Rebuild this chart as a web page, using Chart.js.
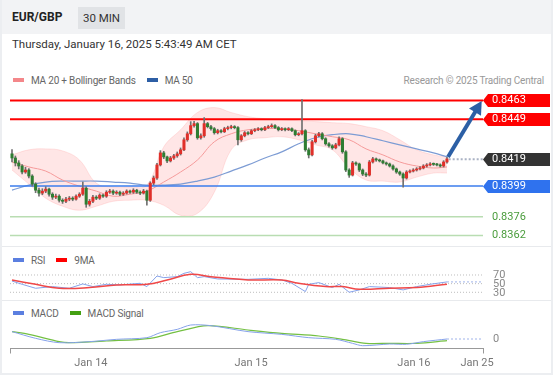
<!DOCTYPE html>
<html>
<head>
<meta charset="utf-8">
<script src="https://cdn.jsdelivr.net/npm/chart.js@4.4.1/dist/chart.umd.min.js"></script>
<style>
  html, body { margin: 0; padding: 0; background: #fff; }
  body { width: 553px; height: 375px; position: relative; overflow: hidden; font-family: Roboto, "Liberation Sans", sans-serif; color: #333; }
  .abs { position: absolute; }
  #head { left: 0; top: 0; width: 553px; height: 34px; background: #f2f3f5; }
  #pair { left: 12px; top: 10px; font-size: 12px; font-weight: bold; color: #222; }
  #tf { left: 78px; top: 7px; width: 47px; height: 22px; line-height: 22px; text-align: center; background: #e1e3e6; font-size: 11.5px; color: #333; }
  #date { left: 12px; top: 37px; font-size: 11.5px; color: #333; }
  .leg { font-size: 10px; letter-spacing: -0.2px; color: #666; white-space: nowrap; }
  .box { display: inline-block; width: 11px; height: 4px; vertical-align: middle; margin-right: 7px; position: relative; top: -1px; }
  .sep { left: 0; width: 553px; height: 1px; background: #e8eaed; }
  #frameL { left: 0; top: 0; width: 2px; height: 375px; background: #eceef1; }
  #frameR { right: 0; top: 0; width: 2px; height: 375px; background: #eceef1; }
  #frameB { left: 0; bottom: 0; width: 553px; height: 2px; background: #eceef1; }
  canvas { position: absolute; left: 0; }
</style>
</head>
<body>
<div id="head" class="abs"></div>
<div id="pair" class="abs">EUR/GBP</div>
<div id="tf" class="abs">30 MIN</div>
<div id="date" class="abs">Thursday, January 16, 2025 5:43:49 AM CET</div>

<div class="abs leg" style="left:13px; top:75px;"><span class="box" style="background:#f4878a"></span>MA 20 + Bollinger Bands<span class="box" style="background:#2d5ea5; margin-left:11px"></span>MA 50</div>
<div class="abs leg" style="right:9px; top:75px; color:#999;">Research © 2025 Trading Central</div>

<div class="abs sep" style="top:246px"></div>
<div class="abs leg" style="left:13px; top:255px;"><span class="box" style="background:#5b7fe0"></span>RSI<span class="box" style="background:#ff0000; margin-left:11px"></span>9MA</div>
<div class="abs sep" style="top:300px"></div>
<div class="abs leg" style="left:13px; top:308px;"><span class="box" style="background:#5b7fe0"></span>MACD<span class="box" style="background:#44a012; margin-left:11px"></span>MACD Signal</div>

<canvas id="main" width="553" height="157" style="top:88px"></canvas>
<canvas id="rsi" width="553" height="38" style="top:262px"></canvas>
<canvas id="macd" width="553" height="57" style="top:318px"></canvas>

<div id="frameL" class="abs"></div>
<div id="frameR" class="abs"></div>
<div id="frameB" class="abs"></div>

<script>
// 30 min candles, index 0 = first candle on the left
const firstOpen = 0.84231;
const closes = [
  0.84200,0.84163,0.84140,0.84095,0.84110,0.84065,0.84005,0.83959,0.83937,0.83952,
  0.83967,0.83929,0.83907,0.83914,0.83884,0.83876,0.83892,0.83899,0.83892,0.83914,
  0.83929,0.83974,0.83854,0.83876,0.83907,0.83899,0.83922,0.83914,0.83944,0.83952,
  0.83937,0.83944,0.83929,0.83937,0.83952,0.83944,0.83959,0.83944,0.83937,0.83952,
  0.83884,0.84012,0.84050,0.84148,0.84238,0.84208,0.84178,0.84200,0.84216,0.84231,
  0.84261,0.84336,0.84381,0.84442,0.84457,0.84351,0.84366,0.84457,0.84434,0.84419,
  0.84389,0.84404,0.84396,0.84419,0.84427,0.84434,0.84427,0.84336,0.84366,0.84389,
  0.84381,0.84404,0.84411,0.84419,0.84411,0.84427,0.84434,0.84442,0.84427,0.84411,
  0.84419,0.84411,0.84419,0.84404,0.84374,0.84381,0.84404,0.84261,0.84223,0.84321,
  0.84366,0.84381,0.84344,0.84306,0.84291,0.84276,0.84298,0.84344,0.84246,0.84110,
  0.84072,0.84163,0.84155,0.84110,0.84080,0.84072,0.84170,0.84193,0.84185,0.84178,
  0.84163,0.84155,0.84140,0.84118,0.84095,0.84080,0.84050,0.84095,0.84102,0.84110,
  0.84118,0.84125,0.84140,0.84148,0.84155,0.84152,0.84148,0.84140,0.84170,0.84193
];
const highs = [
  0.84262,0.84215,0.84180,0.84150,0.84130,0.84120,0.84075,0.84015,0.83975,0.83970,
  0.83985,0.83975,0.83940,0.83930,0.83925,0.83895,0.83905,0.83912,0.83910,0.83925,
  0.83940,0.84020,0.83985,0.83890,0.83920,0.83918,0.83932,0.83930,0.83955,0.83965,
  0.83962,0.83955,0.83952,0.83948,0.83962,0.83960,0.83970,0.83966,0.83955,0.83965,
  0.83960,0.84022,0.84065,0.84160,0.84255,0.84250,0.84215,0.84212,0.84228,0.84245,
  0.84275,0.84350,0.84395,0.84472,0.84475,0.84465,0.84380,0.84502,0.84466,0.84445,
  0.84428,0.84415,0.84412,0.84430,0.84438,0.84445,0.84442,0.84435,0.84375,0.84398,
  0.84398,0.84412,0.84420,0.84428,0.84426,0.84436,0.84445,0.84455,0.84450,0.84435,
  0.84428,0.84426,0.84428,0.84425,0.84410,0.84390,0.84637,0.84412,0.84275,0.84332,
  0.84378,0.84392,0.84390,0.84352,0.84315,0.84300,0.84310,0.84358,0.84352,0.84255,
  0.84120,0.84175,0.84172,0.84162,0.84118,0.84090,0.84182,0.84205,0.84200,0.84192,
  0.84185,0.84170,0.84162,0.84148,0.84125,0.84102,0.84088,0.84105,0.84112,0.84120,
  0.84128,0.84135,0.84150,0.84158,0.84165,0.84163,0.84160,0.84156,0.84180,0.84205
];
const lows = [
  0.84170,0.84140,0.84118,0.84080,0.84085,0.84050,0.83990,0.83940,0.83915,0.83925,
  0.83940,0.83915,0.83890,0.83895,0.83870,0.83860,0.83865,0.83880,0.83880,0.83885,
  0.83905,0.83920,0.83831,0.83840,0.83865,0.83888,0.83890,0.83905,0.83905,0.83935,
  0.83925,0.83928,0.83918,0.83920,0.83930,0.83935,0.83935,0.83935,0.83925,0.83930,
  0.83846,0.83875,0.84000,0.84040,0.84140,0.84195,0.84165,0.84170,0.84190,0.84205,
  0.84222,0.84255,0.84325,0.84372,0.84430,0.84340,0.84340,0.84355,0.84425,0.84408,
  0.84378,0.84380,0.84388,0.84390,0.84410,0.84418,0.84418,0.84298,0.84325,0.84358,
  0.84372,0.84375,0.84396,0.84405,0.84403,0.84405,0.84420,0.84428,0.84420,0.84402,
  0.84404,0.84403,0.84405,0.84396,0.84365,0.84366,0.84372,0.84250,0.84200,0.84215,
  0.84312,0.84358,0.84335,0.84296,0.84280,0.84265,0.84268,0.84290,0.84235,0.84098,
  0.84055,0.84065,0.84145,0.84098,0.84068,0.84060,0.84065,0.84162,0.84175,0.84170,
  0.84155,0.84146,0.84132,0.84108,0.84085,0.84070,0.83982,0.84042,0.84088,0.84095,
  0.84102,0.84110,0.84118,0.84132,0.84140,0.84144,0.84140,0.84132,0.84132,0.84162
];

// indicator lines read every 5 candles
const bandIdx = [0,5,10,15,20,25,30,35,40,45,50,55,60,65,70,75,80,85,90,95,100,105,110,115,120,125,129];
const bbUpper = [0.84223,0.84261,0.84268,0.84253,0.84185,0.84012,0.83982,0.83982,0.83997,0.84283,0.84411,0.84540,0.84577,0.84540,0.84509,0.84494,0.84487,0.84479,0.84472,0.84464,0.84457,0.84434,0.84404,0.84336,0.84261,0.84223,0.84208];
const bbLower = [0.84110,0.84005,0.83899,0.83839,0.83809,0.83839,0.83876,0.83884,0.83884,0.83846,0.83771,0.83786,0.83944,0.84261,0.84336,0.84351,0.84359,0.84336,0.84298,0.84261,0.84125,0.84035,0.84027,0.84020,0.84057,0.84087,0.84087];
const ma20 = [0.84170,0.84133,0.84102,0.84035,0.83989,0.83952,0.83914,0.83929,0.83952,0.84020,0.84095,0.84185,0.84321,0.84381,0.84411,0.84419,0.84419,0.84404,0.84381,0.84359,0.84336,0.84268,0.84223,0.84170,0.84140,0.84125,0.84133];
const ma50 = [0.83959,0.83997,0.84020,0.84027,0.84027,0.84027,0.84020,0.84012,0.83997,0.83997,0.84005,0.84027,0.84057,0.84102,0.84148,0.84200,0.84246,0.84306,0.84351,0.84374,0.84381,0.84359,0.84329,0.84298,0.84268,0.84238,0.84208];

const levels = [0.8463, 0.8449, 0.8419, 0.8399, 0.8376, 0.8362];
const levelKinds = ['res', 'res', 'last', 'sup', 'tgt', 'tgt'];
const arrowFrom = [129.3, 0.84207];
const arrowTo = [139.3, 0.84626];

const rsiIdx = [0,3,7,12,17,21,24,28,32,38,40,43,45,49,51,53,55,57,61,70,76,80,83,87,88,91,95,97,100,103,106,112,116,120,124,129];
const rsiVal = [56,48.5,39.3,43.2,39.3,49.3,43.2,48.5,47,50.8,43.2,67.7,63.9,66.2,73.8,77.7,63.9,66.2,60.8,60,62.3,58.5,50.8,31.7,48.5,52.4,40.9,48.5,30.1,35.5,43.2,40.9,35.5,43.2,48.5,54];
const rsiMaIdx = [0,7,14,23,31,40,46,53,59,70,80,85,93,98,103,112,120,129];
const rsiMaVal = [58.5,48.5,39.3,40.9,47,48.5,58.5,71.5,66.2,58.5,58.5,50.8,43.2,43.2,37,39.3,40.9,48.5];
const rsiLines = [70, 50, 30];

const macdIdx = [0,7,14,23,31,40,44,49,53,59,70,80,88,96,101,104,112,117,122,129];
const macdVal = [0.000078,0.000007,-0.000039,-0.000028,-0.0000035,0.000014,0.000067,0.000102,0.000148,0.000141,0.000078,0.000049,0.000014,-0.0000035,-0.000046,-0.000071,-0.000053,-0.000056,-0.000028,0];
const sigIdx = [0,5,14,17,28,41,49,58,70,80,91,98,105,112,120,129];
const sigVal = [0.000078,0.000049,-0.000028,-0.000039,-0.000021,0.000007,0.000078,0.000141,0.000095,0.00006,0.000032,-0.0000035,-0.000046,-0.000046,-0.000046,-0.000018];

const dayTicks = [23.4, 70.9, 119.2, 137.9];
const dayLabels = ['Jan 14', 'Jan 15', 'Jan 16', 'Jan 25'];

// shared x range (candle index) so the three panels line up
const xMin = -0.593, xMax = 139.68;
const rightPad = 70;

const opens = closes.map((c, i) => i === 0 ? firstOpen : closes[i - 1]);
const upCol = '#e0302a', downCol = '#2e7d32';
const pts = (xs, ys) => xs.map((x, k) => ({x: x, y: ys[k]}));
const flat = (v, from) => [{x: from, y: v}, {x: xMax, y: v}];
const lastI = closes.length - 1;

const levelColor = {res: '#ff0000', last: '#333333', sup: '#2f72ee', tgt: '#4a9c3c'};

const levelLabels = {
  id: 'levelLabels',
  afterDraw(chart) {
    const ctx = chart.ctx, area = chart.chartArea, y = chart.scales.y, x = chart.scales.x;
    // forecast arrow
    const ax0 = x.getPixelForValue(arrowFrom[0]), ay0 = y.getPixelForValue(arrowFrom[1]);
    const ax1 = x.getPixelForValue(arrowTo[0]), ay1 = y.getPixelForValue(arrowTo[1]);
    const ang = Math.atan2(ay1 - ay0, ax1 - ax0);
    const head = 13;
    ctx.save();
    ctx.strokeStyle = '#2c5fa5';
    ctx.fillStyle = '#2c5fa5';
    ctx.lineWidth = 4;
    ctx.beginPath();
    ctx.moveTo(ax0, ay0);
    ctx.lineTo(ax1 - Math.cos(ang) * head * 0.8, ay1 - Math.sin(ang) * head * 0.8);
    ctx.stroke();
    ctx.beginPath();
    ctx.moveTo(ax1, ay1);
    ctx.lineTo(ax1 - head * Math.cos(ang) + 7 * Math.sin(ang), ay1 - head * Math.sin(ang) - 7 * Math.cos(ang));
    ctx.lineTo(ax1 - head * Math.cos(ang) - 7 * Math.sin(ang), ay1 - head * Math.sin(ang) + 7 * Math.cos(ang));
    ctx.closePath();
    ctx.fill();

    // price tags on the right
    ctx.font = '11px Roboto, sans-serif';
    ctx.textBaseline = 'middle';
    levels.forEach((v, k) => {
      const kind = levelKinds[k];
      const py = Math.round(y.getPixelForValue(v)) + 0.5;
      const x0 = area.right, x1 = area.right + 5, x2 = 550, h = 13;
      if (kind !== 'tgt') {
        ctx.fillStyle = levelColor[kind];
        ctx.beginPath();
        ctx.moveTo(x0, py);
        ctx.lineTo(x1, py - h / 2);
        ctx.lineTo(x2, py - h / 2);
        ctx.lineTo(x2, py + h / 2);
        ctx.lineTo(x1, py + h / 2);
        ctx.closePath();
        ctx.fill();
        ctx.fillStyle = '#fff';
      } else {
        ctx.fillStyle = levelColor[kind];
      }
      ctx.fillText(v.toFixed(4), 492, py);
    });
    ctx.restore();
  }
};

// right-hand value labels for the indicator panels
const sideLabels = (values, texts) => ({
  id: 'sideLabels',
  afterDraw(chart) {
    const ctx = chart.ctx, y = chart.scales.y;
    ctx.save();
    ctx.font = '11px Roboto, sans-serif';
    ctx.fillStyle = '#888';
    ctx.textBaseline = 'middle';
    values.forEach((v, k) => {
      ctx.fillStyle = '#fff';
      ctx.fillRect(chart.chartArea.right + 8, y.getPixelForValue(v) - 4, 16, 9);
      ctx.fillStyle = '#888';
      ctx.fillText(texts[k], chart.chartArea.right + 10, y.getPixelForValue(v) + 0.5);
    });
    ctx.restore();
  }
});

const levelSets = levels.map((v, k) => {
  const kind = levelKinds[k];
  if (kind === 'last') {
    return {type: 'line', data: flat(v, lastI + 0.5), borderColor: '#aab2c4', borderWidth: 2, borderDash: [2, 2], pointRadius: 0, order: 1};
  }
  const col = kind === 'res' ? '#ff0000' : kind === 'sup' ? '#3b7ded' : '#b9ddb2';
  return {type: 'line', data: flat(v, xMin), borderColor: col, borderWidth: kind === 'res' ? 2 : 1.5, pointRadius: 0, order: 4};
});

const common = {
  responsive: false,
  animation: false,
  events: [],
  plugins: {legend: {display: false}, tooltip: {enabled: false}}
};

new Chart(document.getElementById('main'), {
  type: 'bar',
  data: {
    datasets: [
      {type: 'line', data: pts(bandIdx, bbUpper), borderColor: 'rgba(255,150,150,0.25)', borderWidth: 1, backgroundColor: 'rgba(255,130,130,0.2)', fill: '+1', pointRadius: 0, tension: 0.4, order: 10},
      {type: 'line', data: pts(bandIdx, bbLower), borderColor: 'rgba(255,150,150,0.25)', borderWidth: 1, fill: false, pointRadius: 0, tension: 0.4, order: 10},
      {type: 'line', data: pts(bandIdx, ma20), borderColor: '#f59a9a', borderWidth: 1, pointRadius: 0, tension: 0.4, order: 6},
      {type: 'line', data: pts(bandIdx, ma50), borderColor: '#7d9cd4', borderWidth: 1.2, pointRadius: 0, tension: 0.4, order: 6},
      ...levelSets,
      {type: 'bar', data: closes.map((c, i) => ({x: i, y: [lows[i], highs[i]]})), backgroundColor: '#707070', barThickness: 1, grouped: false, order: 3},
      {type: 'bar', data: closes.map((c, i) => ({x: i, y: [opens[i], c]})), backgroundColor: closes.map((c, i) => c >= opens[i] ? upCol : downCol), barThickness: 2.4, minBarLength: 1, grouped: false, order: 2}
    ]
  },
  options: Object.assign({}, common, {
    layout: {padding: {left: 10, right: rightPad, top: 0, bottom: 0}},
    scales: {
      x: {type: 'linear', min: xMin, max: xMax, offset: false, display: false},
      y: {min: 0.835489, max: 0.847235, display: false}
    }
  }),
  plugins: [levelLabels]
});

new Chart(document.getElementById('rsi'), {
  type: 'line',
  data: {
    datasets: [
      ...rsiLines.map(v => ({data: flat(v, xMin), borderColor: '#bdbdbd', borderWidth: 1, borderDash: [1, 2], pointRadius: 0, order: 5})),
      {data: pts(rsiIdx, rsiVal), borderColor: '#86a2ea', borderWidth: 1, pointRadius: 0, order: 2},
      {data: pts(rsiMaIdx, rsiMaVal), borderColor: '#f04848', borderWidth: 1.5, pointRadius: 0, tension: 0.4, order: 1},
      {data: flat(rsiVal[rsiVal.length - 1], lastI), borderColor: '#9fb3ea', borderWidth: 1, borderDash: [2, 2], pointRadius: 0, order: 3}
    ]
  },
  options: Object.assign({}, common, {
    layout: {padding: {left: 10, right: rightPad, top: 3, bottom: 2}},
    scales: {
      x: {type: 'linear', min: xMin, max: xMax, display: false},
      y: {min: 16.8, max: 93.1, display: false}
    }
  }),
  plugins: [sideLabels(rsiLines, ['70', '50', '30'])]
});

new Chart(document.getElementById('macd'), {
  type: 'line',
  data: {
    datasets: [
      {data: pts(macdIdx, macdVal), borderColor: '#86a2ea', borderWidth: 1, pointRadius: 0, tension: 0.3},
      {data: pts(sigIdx, sigVal), borderColor: '#74c043', borderWidth: 1.2, pointRadius: 0, tension: 0.3},
      {data: flat(macdVal[macdVal.length - 1], lastI), borderColor: '#9fb3ea', borderWidth: 1, borderDash: [2, 2], pointRadius: 0}
    ]
  },
  options: Object.assign({}, common, {
    layout: {padding: {left: 10, right: rightPad, top: 2, bottom: 0}},
    scales: {
      x: {
        type: 'linear', min: xMin, max: xMax,
        afterBuildTicks: s => { s.ticks = [xMin].concat(dayTicks, [xMax]).map(v => ({value: v})); },
        afterFit: s => { s.height = 26.5; },
        grid: {display: true, drawOnChartArea: false, drawTicks: true, tickLength: 5,
               color: c => (c.index === 0 || c.index === dayTicks.length + 1) ? '#999' : 'rgba(0,0,0,0)'},
        border: {display: true, color: '#999'},
        ticks: {
          autoSkip: false, maxRotation: 0, padding: 3, color: '#777', font: {size: 11, family: 'Roboto'},
          callback: (v, i) => (i >= 1 && i <= dayTicks.length) ? dayLabels[i - 1] : ''
        }
      },
      y: {min: -0.0001005, max: 0.000201, display: false}
    }
  }),
  plugins: [sideLabels([0], ['0'])]
});
</script>
</body>
</html>
